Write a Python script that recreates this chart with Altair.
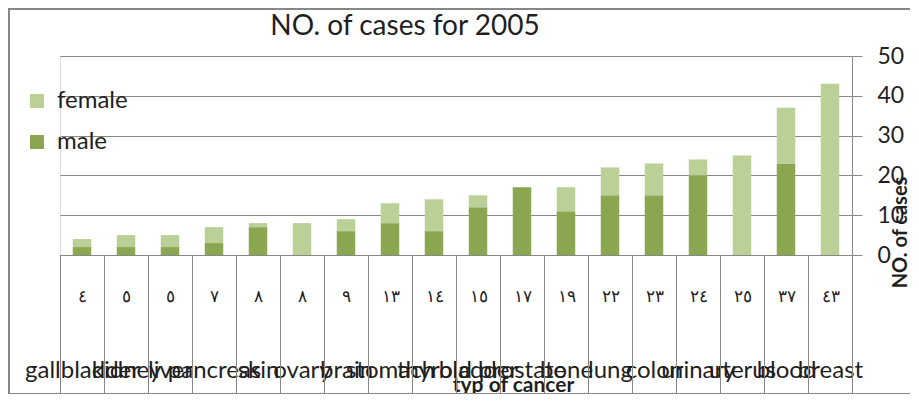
import altair as alt
import pandas as pd

categories = ["gallbladder", "kidney", "liver", "pancreas", "skin", "ovary", "brain",
              "stomach", "thyroid", "bladder", "prostate", "bone", "lung", "colon",
              "urinary", "uterus", "blood", "breast"]
total_labels = ["٤", "٥", "٥", "٧", "٨", "٨", "٩", "١٣", "١٤", "١٥", "١٧", "١٩",
                "٢٢", "٢٣", "٢٤", "٢٥", "٣٧", "٤٣"]
male = [2, 2, 2, 3, 7, 0, 6, 8, 6, 12, 17, 11, 15, 15, 20, 0, 23, 0]
female = [2, 3, 3, 4, 1, 8, 3, 5, 8, 3, 0, 6, 7, 8, 4, 25, 14, 43]
y_ticks = [0, 10, 20, 30, 40, 50]

keys = [f"{n}|{c}" for n, c in zip(total_labels, categories)]
rows = []
for k, m, f in zip(keys, male, female):
    rows.append({"key": k, "sex": "male", "cases": m, "ord": 0})
    rows.append({"key": k, "sex": "female", "cases": f, "ord": 1})
df = pd.DataFrame(rows)

GRAY = "#878787"
TEXT = "#1f1f1f"
FONT = "Lato"
DARK = "#8AA650"
LIGHT = "#BBD097"

xscale = alt.Scale(paddingInner=0, paddingOuter=0)
yscale = alt.Scale(domain=[0, 50])
common_axis = dict(orient="bottom", labelAngle=0, labelAlign="center",
                   labelBaseline="middle", labelOverlap=False, labelColor=TEXT,
                   labelFlush=False, tickBand="extent", tickSize=138, tickColor=GRAY,
                   domainColor=GRAY, grid=False, labelFont=FONT, titleFont=FONT)
yaxis = alt.Axis(orient="right", values=y_ticks, title="NO. of cases",
                 domainColor=GRAY, tickColor=GRAY, tickSize=10,
                 labelPadding=15, labelFontSize=23, labelColor=TEXT, labelFont=FONT,
                 gridColor=GRAY, grid=True,
                 titleAngle=270, titleX=48, titleY=176, titleFont=FONT,
                 titleFontSize=20, titleFontWeight="bold", titleColor=TEXT,
                 titleAlign="center", titleBaseline="middle")

bars = alt.Chart(df).mark_bar(width={"band": 0.42}).encode(
    x=alt.X("key:N", sort=keys, scale=xscale,
            axis=alt.Axis(title="typ of cancer",
                          labelExpr="split(datum.label, '|')[1]",
                          labelPadding=-23, labelFontSize=24,
                          titleFontSize=21, titleFontWeight="bold", titleColor=TEXT,
                          titleX=453, titleY=130, titleBaseline="middle",
                          titleAlign="center", **common_axis)),
    y=alt.Y("cases:Q", stack="zero", scale=yscale, axis=yaxis),
    color=alt.Color("sex:N",
                    scale=alt.Scale(domain=["female", "male"], range=[LIGHT, DARK]),
                    legend=alt.Legend(orient="none", legendX=-35, legendY=33, title=None,
                                      symbolType="square", symbolSize=196,
                                      symbolStrokeWidth=0, labelFontSize=24,
                                      labelFont=FONT, labelColor=TEXT, rowPadding=17,
                                      labelOffset=8, direction="vertical")),
    order=alt.Order("ord:Q"),
)

numerals = alt.Chart(df).mark_bar(width={"band": 0.42}, opacity=0).encode(
    x=alt.X("key:N", sort=keys, scale=xscale,
            axis=alt.Axis(title=None, labelExpr="split(datum.label, '|')[0]",
                          labelPadding=-97, labelFontSize=17, **common_axis)),
    y=alt.Y("cases:Q", stack="zero", scale=yscale, axis=yaxis),
    order=alt.Order("ord:Q"),
)

frame = alt.Chart(pd.DataFrame({"f": [0]})).mark_rect(
    fill="transparent", stroke=GRAY, strokeWidth=2, clip=False
).encode(x=alt.value(-51), x2=alt.value(900), y=alt.value(-47), y2=alt.value(338))

chart = alt.layer(bars, numerals, frame).resolve_axis(x="independent").properties(
    width=792, height=199,
    title=alt.Title("NO. of cases for 2005", fontSize=28, font=FONT, fontWeight="normal",
                    color=TEXT, dx=-51, dy=73, offset=18, anchor="middle",
                    frame="group", baseline="alphabetic"),
    autosize=alt.AutoSizeParams(type="none"),
    padding={"left": 52, "top": 48, "right": 58, "bottom": 139},
).configure_view(stroke=None).configure_axis(
    labelFont=FONT, titleFont=FONT
).configure_legend(labelFont=FONT).configure(background="white", font=FONT)

chart.save("out.html", embed_options={"renderer": "svg", "actions": False})
